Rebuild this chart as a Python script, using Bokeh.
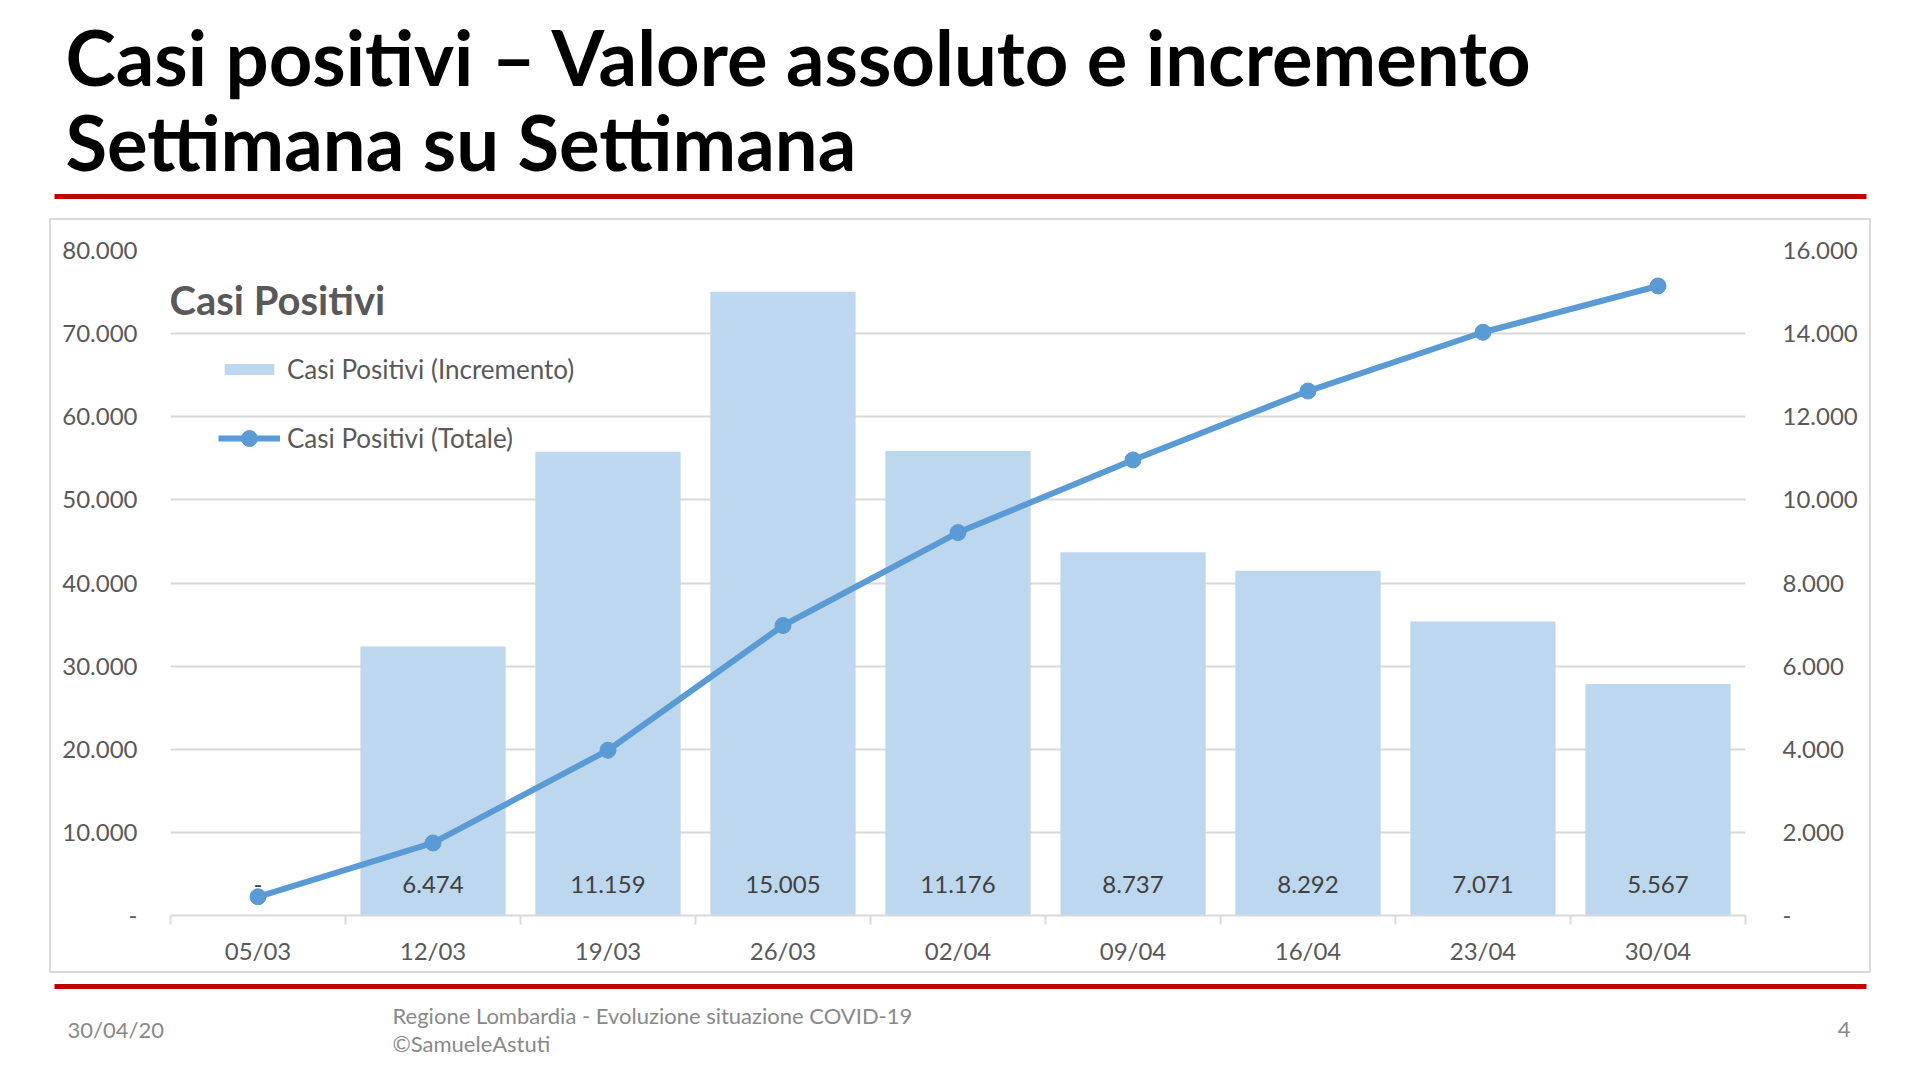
from bokeh.plotting import figure
from bokeh.models import (Range1d, LinearAxis, FixedTicker, Legend, LegendItem,
                          Label, Spacer, Grid)
from bokeh.layouts import column, row
from bokeh.embed import file_html
from bokeh.resources import INLINE
from bokeh.core.properties import value

# ---------------- data ----------------
dates = ["05/03", "12/03", "19/03", "26/03", "02/04", "09/04", "16/04", "23/04", "30/04"]
totale = [2251, 8725, 19884, 34889, 46065, 54802, 63094, 70165, 75732]
incremento = [0, 6474, 11159, 15005, 11176, 8737, 8292, 7071, 5567]
left_ticks = [0, 10000, 20000, 30000, 40000, 50000, 60000, 70000, 80000]
right_ticks = [0, 2000, 4000, 6000, 8000, 10000, 12000, 14000, 16000]

title_lines = ["Casi positivi \u2013 Valore assoluto e incremento", "Settimana su Settimana"]
chart_title = "Casi Positivi"
bar_label = "Casi Positivi (Incremento)"
line_label = "Casi Positivi (Totale)"
footer_date = "30/04/20"
footer_lines = ["Regione Lombardia - Evoluzione situazione COVID-19", "\u00a9SamueleAstuti"]
page_no = "4"


def fmt(v):
    return "-" if v == 0 else f"{v:,}".replace(",", ".")


FONT = "Lato"
RED = "#C00000"
GRID = "#D9D9D9"
BAR = "#BDD7EE"
LINE = "#5B9BD5"
W = 1904

# ---------------- header ----------------
HH = 218
hdr = figure(width=W, height=HH, x_range=Range1d(0, W), y_range=Range1d(HH, 0),
             output_backend="svg", toolbar_location=None, min_border=0,
             x_axis_type=None, y_axis_type=None, outline_line_color=None)
hdr.grid.visible = False
hdr.text(x=[65, 65], y=[56, 141], text=title_lines, text_font=value(FONT),
         text_font_style="bold", text_font_size="76px", text_color="#000000",
         text_baseline="middle", text_align="left")
hdr.segment(x0=[54], y0=[196], x1=[1866], y1=[196], line_color=RED, line_width=5)

# ---------------- chart ----------------
xs = [i + 0.5 for i in range(len(dates))]
p = figure(width=1822, height=755, x_range=Range1d(0, len(dates)),
           y_range=Range1d(0, 80000), output_backend="svg", toolbar_location=None,
           x_axis_type=None, y_axis_type=None, outline_line_color=None,
           min_border_left=119, min_border_right=128, min_border_top=30,
           min_border_bottom=60)
p.styles = {"border": "2px solid #D9D9D9", "box-sizing": "border-box"}
p.extra_y_ranges = {"inc": Range1d(0, 16000)}

yl = LinearAxis(ticker=FixedTicker(ticks=left_ticks),
                major_label_overrides={t: fmt(t) for t in left_ticks},
                axis_line_color=None, major_tick_line_color=None,
                minor_tick_line_color=None, major_tick_out=0, major_tick_in=0,
                major_label_standoff=33, major_label_text_font=FONT,
                major_label_text_font_size="24px", major_label_text_color="#595959")
p.add_layout(yl, "left")
yr = LinearAxis(y_range_name="inc", ticker=FixedTicker(ticks=right_ticks),
                major_label_overrides={t: fmt(t) for t in right_ticks},
                axis_line_color=None, major_tick_line_color=None,
                minor_tick_line_color=None, major_tick_out=0, major_tick_in=0,
                major_label_standoff=37, major_label_text_font=FONT,
                major_label_text_font_size="24px", major_label_text_color="#595959")
p.add_layout(yr, "right")
xa = LinearAxis(ticker=FixedTicker(ticks=xs, minor_ticks=list(range(len(dates) + 1))),
                major_label_overrides=dict(zip(xs, dates)),
                axis_line_color=GRID, axis_line_width=2,
                major_tick_line_color=None, major_tick_out=0, major_tick_in=0,
                minor_tick_line_color=GRID, minor_tick_line_width=2,
                minor_tick_out=9, minor_tick_in=0,
                major_label_standoff=11, major_label_text_font=FONT,
                major_label_text_font_size="24px", major_label_text_color="#595959")
p.add_layout(xa, "below")
p.add_layout(Grid(dimension=1, ticker=yl.ticker, grid_line_color=GRID, grid_line_width=2))

bars = p.vbar(x=xs, top=incremento, width=0.83, y_range_name="inc",
              fill_color=BAR, line_color=None)
p.text(x=xs, y=[0] * len(xs), text=[fmt(v) for v in incremento], y_range_name="inc",
       text_font=value(FONT), text_font_size="24px", text_color="#404040",
       text_align="center", text_baseline="middle", y_offset=-31)
ln = p.line(x=xs, y=totale, line_color=LINE, line_width=6)
pts = p.scatter(x=xs, y=totale, size=16, fill_color=LINE, line_color=LINE)

p.add_layout(Label(x=0, y=74100, x_offset=-1, text=chart_title, text_font=FONT,
                   text_font_style="bold", text_font_size="40px",
                   text_color="#595959", text_baseline="middle"))

common = dict(padding=0, margin=0, spacing=0, border_line_color=None,
              background_fill_alpha=0, label_text_font=FONT,
              label_text_font_size="26px", label_text_color="#595959",
              label_standoff=7, glyph_width=62)
leg1 = Legend(items=[LegendItem(label=bar_label, renderers=[bars])],
              location=(48, 530), glyph_height=14, label_height=14, **common)
leg2 = Legend(items=[LegendItem(label=line_label, renderers=[ln, pts])],
              location=(48, 457), glyph_height=40, label_height=14, **common)
p.add_layout(leg1)
p.add_layout(leg2)

# ---------------- footer ----------------
FH = 91
ftr = figure(width=W, height=FH, x_range=Range1d(0, W), y_range=Range1d(FH, 0),
             output_backend="svg", toolbar_location=None, min_border=0,
             x_axis_type=None, y_axis_type=None, outline_line_color=None)
ftr.grid.visible = False
ftr.segment(x0=[54], y0=[13], x1=[1866], y1=[13], line_color=RED, line_width=5)
ftr.text(x=[67], y=[56], text=[footer_date], text_font=value(FONT),
         text_font_size="22px", text_color="#898989", text_baseline="middle")
ftr.text(x=[392, 392], y=[42, 70], text=footer_lines, text_font=value(FONT),
         text_font_size="22px", text_color="#898989", text_baseline="middle")
ftr.text(x=[1850], y=[56], text=[page_no], text_font=value(FONT),
         text_font_size="22px", text_color="#898989", text_baseline="middle",
         text_align="right")

layout = column(hdr, row(Spacer(width=49, height=755), p), ftr)
open("out.html", "w").write(file_html(layout, INLINE))
